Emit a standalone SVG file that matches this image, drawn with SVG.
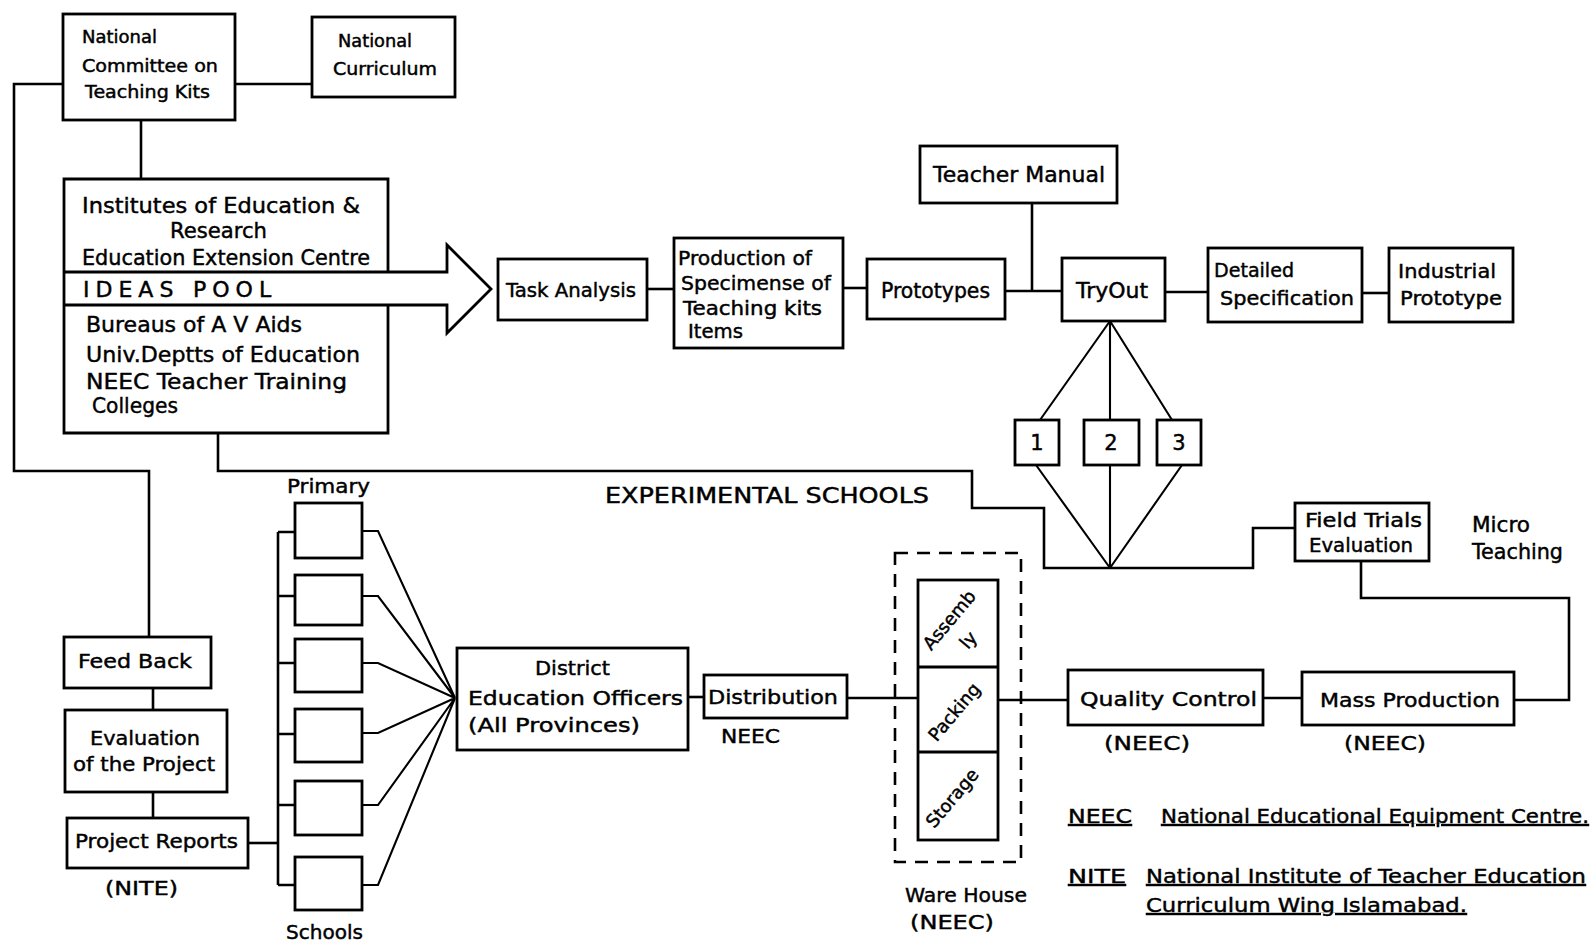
<svg xmlns="http://www.w3.org/2000/svg" width="1594" height="943" viewBox="0 0 1594 943">
<style>
.b{fill:none;stroke:#000;stroke-width:2.8}
.d{fill:none;stroke:#000;stroke-width:2.6;stroke-dasharray:13 9}
.l{fill:none;stroke:#000;stroke-width:2.6}
.t{fill:none;stroke:#000;stroke-width:2.1}
text{font-family:"DejaVu Sans","Liberation Sans",sans-serif;fill:#000;stroke:#000;stroke-width:0.45}
.s16{font-size:17px}
.s19{font-size:20px}
.s20{font-size:21px}
.s21{font-size:22px}
.r{font-size:18px}
.u{text-decoration:underline}
</style>
<rect width="1594" height="943" fill="#fff"/>
<g id="connectors">
<path class="l" d="M235,84 H312"/>
<path class="l" d="M63,84 H14 V471 H149 V637"/>
<path class="l" d="M141,120 V179"/>
<path class="l" d="M218,433 V471 H972 V508 H1044 V568 H1253 V528 H1295"/>
<path class="l" d="M647,289 H674"/>
<path class="l" d="M843,288 H867"/>
<path class="l" d="M1005,291 H1062"/>
<path class="l" d="M1032,203 V291"/>
<path class="l" d="M1165,292 H1208"/>
<path class="l" d="M1362,293 H1389"/>
<path class="t" d="M1110,321 L1040,420 M1110,321 V420 M1110,321 L1172,420"/>
<path class="t" d="M1036,465 L1110,568 M1110,465 V568 M1182,465 L1110,568"/>
<path class="l" d="M1361,561 V598 H1569 V700 H1514"/>
<path class="l" d="M1263,698 H1302"/>
<path class="l" d="M998,700 H1068"/>
<path class="l" d="M847,698 H918"/>
<path class="l" d="M688,697 H704"/>
<path class="l" d="M153,688 V710 M153,792 V818"/>
<path class="l" d="M248,843 H278"/>
<path class="l" d="M278,532 V885 M278,532 H295 M278,596 H295 M278,663 H295 M278,734 H295 M278,805 H295 M278,885 H295"/>
<path class="t" d="M362,531 H378 L455,698 M362,596 H378 L455,698 M362,663 H378 L455,698 M362,733 H378 L455,698 M362,805 H378 L455,698 M362,885 H378 L455,698"/>
</g>
<g id="national-committee">
<rect class="b" x="63" y="14" width="172" height="106"/>
<text class="s16" x="82" y="43" textLength="75" lengthAdjust="spacingAndGlyphs">National</text>
<text class="s16" x="82" y="72" textLength="136" lengthAdjust="spacingAndGlyphs">Committee on</text>
<text class="s16" x="85" y="98" textLength="125" lengthAdjust="spacingAndGlyphs">Teaching Kits</text>
</g>
<g id="national-curriculum">
<rect class="b" x="312" y="17" width="143" height="80"/>
<text class="s16" x="338" y="47" textLength="74" lengthAdjust="spacingAndGlyphs">National</text>
<text class="s16" x="333" y="75" textLength="104" lengthAdjust="spacingAndGlyphs">Curriculum</text>
</g>
<g id="ideas-pool">
<path class="b" d="M388,272 V179 H64 V433 H388 V305"/>
<path class="b" d="M64,272 H447 V245 L491,289 L447,333 V305 H64"/>
<text class="s21" x="82" y="213" textLength="278" lengthAdjust="spacingAndGlyphs">Institutes of Education &amp;</text>
<text class="s21" x="170" y="238" textLength="97" lengthAdjust="spacingAndGlyphs">Research</text>
<text class="s21" x="82" y="265" textLength="288" lengthAdjust="spacingAndGlyphs">Education Extension Centre</text>
<text class="s21" x="83" y="297" letter-spacing="6">IDEAS <tspan x="193">POOL</tspan></text>
<text class="s21" x="86" y="332" textLength="216" lengthAdjust="spacingAndGlyphs">Bureaus of A V Aids</text>
<text class="s21" x="86" y="362" textLength="274" lengthAdjust="spacingAndGlyphs">Univ.Deptts of Education</text>
<text class="s21" x="86" y="389" textLength="261" lengthAdjust="spacingAndGlyphs">NEEC Teacher Training</text>
<text class="s21" x="92" y="413" textLength="86" lengthAdjust="spacingAndGlyphs">Colleges</text>
</g>
<g id="task-analysis">
<rect class="b" x="498" y="259" width="149" height="61"/>
<text class="s19" x="506" y="297" textLength="130" lengthAdjust="spacingAndGlyphs">Task Analysis</text>
</g>
<g id="production">
<rect class="b" x="674" y="238" width="169" height="110"/>
<text class="s19" x="678" y="265" textLength="134" lengthAdjust="spacingAndGlyphs">Production of</text>
<text class="s19" x="681" y="290" textLength="150" lengthAdjust="spacingAndGlyphs">Specimense of</text>
<text class="s19" x="683" y="315" textLength="139" lengthAdjust="spacingAndGlyphs">Teaching kits</text>
<text class="s19" x="688" y="338" textLength="55" lengthAdjust="spacingAndGlyphs">Items</text>
</g>
<g id="prototypes">
<rect class="b" x="867" y="259" width="138" height="60"/>
<text class="s20" x="881" y="298" textLength="109" lengthAdjust="spacingAndGlyphs">Prototypes</text>
</g>
<g id="teacher-manual">
<rect class="b" x="920" y="146" width="197" height="57"/>
<text class="s20" x="933" y="182" textLength="172" lengthAdjust="spacingAndGlyphs">Teacher Manual</text>
</g>
<g id="tryout">
<rect class="b" x="1062" y="258" width="103" height="63"/>
<text class="s20" x="1076" y="298" textLength="72" lengthAdjust="spacingAndGlyphs">TryOut</text>
</g>
<g id="detailed-specification">
<rect class="b" x="1208" y="248" width="154" height="74"/>
<text class="s19" x="1214" y="277" textLength="80" lengthAdjust="spacingAndGlyphs">Detailed</text>
<text class="s19" x="1220" y="305" textLength="134" lengthAdjust="spacingAndGlyphs">Specification</text>
</g>
<g id="industrial-prototype">
<rect class="b" x="1389" y="248" width="124" height="74"/>
<text class="s19" x="1398" y="278" textLength="98" lengthAdjust="spacingAndGlyphs">Industrial</text>
<text class="s19" x="1400" y="305" textLength="102" lengthAdjust="spacingAndGlyphs">Prototype</text>
</g>
<g id="trial-1">
<rect class="b" x="1015" y="420" width="44" height="45"/>
<text class="s20" x="1037" y="450" text-anchor="middle">1</text>
</g>
<g id="trial-2">
<rect class="b" x="1084" y="420" width="55" height="45"/>
<text class="s20" x="1111" y="450" text-anchor="middle">2</text>
</g>
<g id="trial-3">
<rect class="b" x="1157" y="420" width="44" height="45"/>
<text class="s20" x="1179" y="450" text-anchor="middle">3</text>
</g>
<g id="experimental-schools-label">
<text class="s20" x="605" y="503" textLength="324" lengthAdjust="spacingAndGlyphs">EXPERIMENTAL SCHOOLS</text>
</g>
<g id="field-trials">
<rect class="b" x="1295" y="503" width="134" height="58"/>
<text class="s19" x="1305" y="527" textLength="117" lengthAdjust="spacingAndGlyphs">Field Trials</text>
<text class="s19" x="1309" y="552" textLength="104" lengthAdjust="spacingAndGlyphs">Evaluation</text>
</g>
<g id="micro-teaching">
<text class="s20" x="1472" y="532" textLength="58" lengthAdjust="spacingAndGlyphs">Micro</text>
<text class="s20" x="1472" y="559" textLength="91" lengthAdjust="spacingAndGlyphs">Teaching</text>
</g>
<g id="mass-production">
<rect class="b" x="1302" y="672" width="212" height="53"/>
<text class="s19" x="1320" y="707" textLength="180" lengthAdjust="spacingAndGlyphs">Mass Production</text>
<text class="s19" x="1344" y="750" textLength="82" lengthAdjust="spacingAndGlyphs">(NEEC)</text>
</g>
<g id="quality-control">
<rect class="b" x="1068" y="670" width="195" height="55"/>
<text class="s19" x="1080" y="706" textLength="177" lengthAdjust="spacingAndGlyphs">Quality Control</text>
<text class="s19" x="1104" y="750" textLength="86" lengthAdjust="spacingAndGlyphs">(NEEC)</text>
</g>
<g id="warehouse">
<rect class="d" x="895" y="553" width="126" height="309"/>
<rect class="b" x="918" y="580" width="80" height="260"/>
<path class="b" d="M918,667 H998 M918,752 H998"/>
<text class="r" x="954" y="624" text-anchor="middle" transform="rotate(-50 954 624)">Assemb</text>
<text class="r" x="973" y="644" text-anchor="middle" transform="rotate(-50 973 644)">ly</text>
<text class="r" x="959" y="716" text-anchor="middle" transform="rotate(-50 959 716)">Packing</text>
<text class="r" x="957" y="802" text-anchor="middle" transform="rotate(-50 957 802)">Storage</text>
<text class="s19" x="905" y="902" textLength="122" lengthAdjust="spacingAndGlyphs">Ware House</text>
<text class="s19" x="910" y="929" textLength="84" lengthAdjust="spacingAndGlyphs">(NEEC)</text>
</g>
<g id="distribution">
<rect class="b" x="704" y="675" width="143" height="43"/>
<text class="s19" x="708" y="704" textLength="130" lengthAdjust="spacingAndGlyphs">Distribution</text>
<text class="s19" x="721" y="743" textLength="59" lengthAdjust="spacingAndGlyphs">NEEC</text>
</g>
<g id="district-education-officers">
<rect class="b" x="457" y="648" width="231" height="102"/>
<text class="s19" x="535" y="675" textLength="75" lengthAdjust="spacingAndGlyphs">District</text>
<text class="s19" x="468" y="705" textLength="215" lengthAdjust="spacingAndGlyphs">Education Officers</text>
<text class="s19" x="468" y="732" textLength="172" lengthAdjust="spacingAndGlyphs">(All   Provinces)</text>
</g>
<g id="primary-schools">
<text class="s19" x="287" y="493" textLength="83" lengthAdjust="spacingAndGlyphs">Primary</text>
<rect class="b" x="295" y="503" width="67" height="55"/>
<rect class="b" x="295" y="575" width="67" height="50"/>
<rect class="b" x="295" y="639" width="67" height="53"/>
<rect class="b" x="295" y="709" width="67" height="53"/>
<rect class="b" x="295" y="781" width="67" height="54"/>
<rect class="b" x="295" y="857" width="67" height="53"/>
<text class="s19" x="286" y="939" textLength="77" lengthAdjust="spacingAndGlyphs">Schools</text>
</g>
<g id="feed-back">
<rect class="b" x="64" y="637" width="147" height="51"/>
<text class="s19" x="78" y="668" textLength="114" lengthAdjust="spacingAndGlyphs">Feed Back</text>
</g>
<g id="evaluation">
<rect class="b" x="65" y="710" width="162" height="82"/>
<text class="s19" x="90" y="745" textLength="110" lengthAdjust="spacingAndGlyphs">Evaluation</text>
<text class="s19" x="73" y="771" textLength="142" lengthAdjust="spacingAndGlyphs">of the Project</text>
</g>
<g id="project-reports">
<rect class="b" x="67" y="818" width="181" height="50"/>
<text class="s19" x="75" y="848" textLength="163" lengthAdjust="spacingAndGlyphs">Project Reports</text>
<text class="s19" x="105" y="895" textLength="73" lengthAdjust="spacingAndGlyphs">(NITE)</text>
</g>
<g id="legend">
<text class="s19 u" x="1068" y="823" textLength="64" lengthAdjust="spacingAndGlyphs">NEEC</text>
<text class="s19 u" x="1161" y="823" textLength="428" lengthAdjust="spacingAndGlyphs">National Educational Equipment Centre.</text>
<text class="s19 u" x="1068" y="883" textLength="58" lengthAdjust="spacingAndGlyphs">NITE</text>
<text class="s19 u" x="1146" y="883" textLength="440" lengthAdjust="spacingAndGlyphs">National Institute of Teacher Education</text>
<text class="s19 u" x="1146" y="912" textLength="321" lengthAdjust="spacingAndGlyphs">Curriculum Wing Islamabad.</text>
</g>
</svg>
